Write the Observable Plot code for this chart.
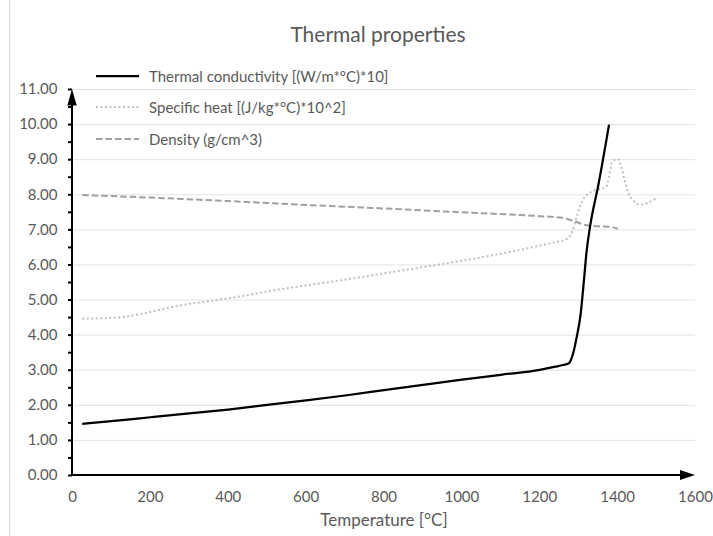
<!DOCTYPE html>
<html>
<head>
<meta charset="utf-8">
<script src="https://cdn.jsdelivr.net/npm/d3@7"></script>
<script src="https://cdn.jsdelivr.net/npm/@observablehq/plot@0.6"></script>
<style>
  html, body { margin: 0; padding: 0; background: #fff; }
  #wrap { position: relative; width: 713px; height: 536px; font-family: Lato, "Open Sans", sans-serif; overflow: hidden; }
  #border { position: absolute; left: 9px; top: 0; width: 1px; height: 536px; background: #d9d9d9; }
  #title { position: absolute; left: 378px; top: 21px; transform: translateX(-50%); font-size: 21px; color: #595959; white-space: nowrap; }
  .leg { position: absolute; left: 96px; height: 20px; display: flex; align-items: center; font-size: 15px; color: #595959; white-space: nowrap; }
  .leg svg { margin-right: 10px; }
  #chart { position: absolute; left: 0; top: 0; }
</style>
</head>
<body>
<div id="wrap">
  <div id="border"></div>
  <div id="chart"></div>
  <div id="title"></div>
  <div id="legend"></div>
</div>
<script>
// ---- Data ----
const chartTitle = "Thermal properties";
const xLabel = "Temperature [°C]";
const xTicks = [0, 200, 400, 600, 800, 1000, 1200, 1400, 1600];
const yTicks = [0, 1, 2, 3, 4, 5, 6, 7, 8, 9, 10, 11];
const yMinorTicks = [0, 0.5, 1, 1.5, 2, 2.5, 3, 3.5, 4, 4.5, 5, 5.5, 6, 6.5, 7, 7.5, 8, 8.5, 9, 9.5, 10, 10.5, 11];

const seriesNames = [
  "Thermal conductivity [(W/m*°C)*10]",
  "Specific heat [(J/kg*°C)*10^2]",
  "Density (g/cm^3)"
];

const condT = [25, 100, 200, 300, 400, 500, 600, 700, 800, 900, 1000, 1100, 1200, 1240, 1260, 1275, 1285, 1295, 1305, 1313, 1320, 1330, 1350, 1378];
const condV = [1.47, 1.55, 1.66, 1.77, 1.88, 2.01, 2.14, 2.28, 2.43, 2.58, 2.73, 2.87, 3.01, 3.10, 3.15, 3.20, 3.45, 3.95, 4.60, 5.50, 6.35, 7.15, 8.25, 10.0];

const heatT = [25, 100, 130, 200, 260, 400, 560, 700, 850, 950, 1000, 1100, 1200, 1240, 1270, 1285, 1297, 1315, 1340, 1370, 1378, 1385, 1400, 1410, 1418, 1440, 1460, 1480, 1500];
const heatV = [4.47, 4.49, 4.52, 4.66, 4.81, 5.05, 5.35, 5.58, 5.85, 6.03, 6.12, 6.32, 6.55, 6.65, 6.74, 7.00, 7.45, 7.93, 8.12, 8.22, 8.50, 8.90, 9.02, 8.78, 8.40, 7.83, 7.72, 7.78, 7.90];

const densT = [25, 200, 400, 600, 800, 1000, 1100, 1200, 1260, 1290, 1320, 1350, 1380, 1400];
const densV = [7.99, 7.92, 7.82, 7.71, 7.61, 7.50, 7.45, 7.39, 7.34, 7.24, 7.13, 7.10, 7.09, 7.03];

// ---- Styles ----
const styles = [
  {stroke: "#000000", strokeWidth: 2.25, dash: null},
  {stroke: "#bfbfbf", strokeWidth: 2, dash: "2,2.5"},
  {stroke: "#a0a0a0", strokeWidth: 2, dash: "6.5,3"}
];

const condData = condT.map((t, i) => ({t, v: condV[i]}));
const heatData = heatT.map((t, i) => ({t, v: heatV[i]}));
const densData = densT.map((t, i) => ({t, v: densV[i]}));

const xMax = xTicks[xTicks.length - 1];
const yMax = yTicks[yTicks.length - 1];

function axesWithArrows(index, scales) {
  const {x, y} = scales;
  const x0 = x(0), x1 = x(xMax), y0 = y(0), y1 = y(yMax);
  const g = d3.create("svg:g");
  g.append("line").attr("x1", x0 - 1).attr("x2", x1 - 12).attr("y1", y0).attr("y2", y0)
    .attr("stroke", "black").attr("stroke-width", 2);
  g.append("path").attr("d", `M${x1},${y0}L${x1 - 15},${y0 - 5}L${x1 - 15},${y0 + 5}Z`).attr("fill", "black");
  g.append("line").attr("x1", x0).attr("x2", x0).attr("y1", y0 + 1).attr("y2", y1 + 12)
    .attr("stroke", "black").attr("stroke-width", 2);
  g.append("path").attr("d", `M${x0},${y1}L${x0 - 4.7},${y1 + 16.5}L${x0 + 4.7},${y1 + 16.5}Z`).attr("fill", "black");
  return g.node();
}

const line = (data, s) => Plot.line(data, {
  x: "t", y: "v", curve: "monotone-x",
  stroke: s.stroke, strokeWidth: s.strokeWidth,
  strokeDasharray: s.dash || undefined, strokeLinecap: "butt", strokeLinejoin: "round"
});

const plot = Plot.plot({
  width: 713,
  height: 536,
  marginLeft: 72,
  marginRight: 18,
  marginTop: 89,
  marginBottom: 61,
  style: {fontFamily: "Lato, 'Open Sans', sans-serif", background: "transparent"},
  x: {domain: [0, xMax], axis: null},
  y: {domain: [0, yMax], axis: null},
  marks: [
    Plot.gridY(yTicks.filter(d => d > 0), {stroke: "#e3e3e3", strokeOpacity: 1, strokeWidth: 1}),
    Plot.axisY(yMinorTicks, {tickSize: 4, tickFormat: () => "", stroke: "black", strokeWidth: 2, label: null}),
    Plot.axisY(yTicks, {tickSize: 0, tickPadding: 15, tickFormat: d => d.toFixed(2), color: "#595959", fontSize: 15, label: null}),
    Plot.axisX(xTicks, {tickSize: 0, tickPadding: 16, color: "#595959", fontSize: 15, label: null, tickFormat: d => String(d)}),
    Plot.text([xLabel], {text: d => d, frameAnchor: "bottom", dy: 50, fill: "#595959", fontSize: 17}),
    line(densData, styles[2]),
    line(heatData, styles[1]),
    line(condData, styles[0]),
    axesWithArrows
  ]
});

document.getElementById("chart").appendChild(plot);
document.getElementById("title").textContent = chartTitle;

const legendRowsY = [76, 107, 139];
const legend = document.getElementById("legend");
seriesNames.forEach((name, i) => {
  const row = document.createElement("div");
  row.className = "leg";
  row.style.top = (legendRowsY[i] - 10) + "px";
  const s = styles[i];
  const svg = d3.create("svg").attr("width", 43).attr("height", 6);
  svg.append("line").attr("x1", 0).attr("x2", 43).attr("y1", 3).attr("y2", 3)
    .attr("stroke", s.stroke).attr("stroke-width", s.strokeWidth)
    .attr("stroke-dasharray", s.dash);
  row.appendChild(svg.node());
  const span = document.createElement("span");
  span.textContent = name;
  row.appendChild(span);
  legend.appendChild(row);
});
</script>
</body>
</html>
